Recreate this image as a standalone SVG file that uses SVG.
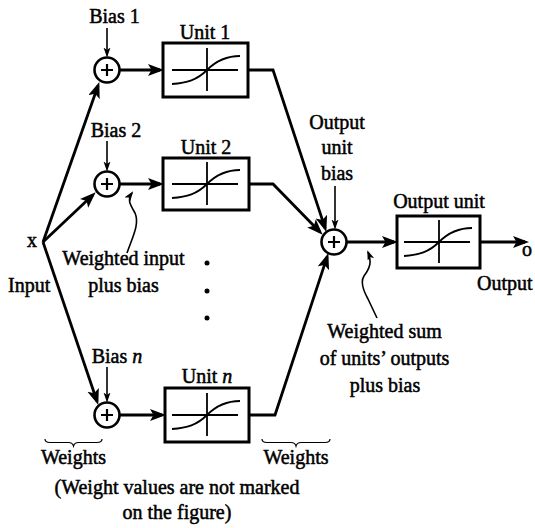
<svg xmlns="http://www.w3.org/2000/svg" xmlns:xlink="http://www.w3.org/1999/xlink" width="535" height="528" viewBox="0 0 535 528">
  <style>
    text { font-family: "Liberation Serif", "Times New Roman", serif; font-size: 20px; fill: #000; stroke: #000; stroke-width: 0.5; }
    .mid { text-anchor: middle; }
    .sum { fill: #fff; stroke: #000; stroke-width: 2.6; }
    .plus { stroke: #000; stroke-width: 2.2; fill: none; }
    .box { fill: #fff; stroke: #000; stroke-width: 3; }
    .sig { fill: none; stroke: #000; stroke-width: 1.8; }
    .thick { fill: none; stroke: #000; stroke-width: 2.8; stroke-linejoin: miter; }
    .thin { fill: none; stroke: #000; stroke-width: 1.6; }
    .brace { fill: none; stroke: #000; stroke-width: 1.2; }
  </style>
  <defs>
    <marker id="ah" markerUnits="userSpaceOnUse" markerWidth="17" markerHeight="13" refX="12" refY="6" orient="auto">
      <path d="M0,0 L16,6 L0,12 L3.5,6 z" fill="#000"/>
    </marker>
    <marker id="sh" markerUnits="userSpaceOnUse" markerWidth="11" markerHeight="8" refX="8" refY="3.5" orient="auto">
      <path d="M0,0 L10,3.5 L0,7 L2.5,3.5 z" fill="#000"/>
    </marker>
    <!-- sigmoid glyph drawn around the axis crossing -->
    <g id="sig" class="sig">
      <path d="M-35,0 H31"/>
      <path d="M0,-22 V21"/>
      <path d="M-35,14 C-20,13 -10,10 0,0 C10,-10 20,-14 33,-14"/>
    </g>
    <g id="plus" class="plus">
      <path d="M-6,0 H6 M0,-6 V6"/>
    </g>
  </defs>

  <rect width="535" height="528" fill="#fff"/>

  <!-- connectors -->
  <g id="connectors">
    <path class="thick" d="M43,242 L98,85.8" marker-end="url(#ah)"/>
    <path class="thick" d="M43,242 L92.8,195.1" marker-end="url(#ah)"/>
    <path class="thick" d="M43,242 L97,401.2" marker-end="url(#ah)"/>
    <path class="thick" d="M119.5,70 L160,70" marker-end="url(#ah)"/>
    <path class="thick" d="M119.5,184 L160,184" marker-end="url(#ah)"/>
    <path class="thick" d="M119.5,415 L162,415" marker-end="url(#ah)"/>
    <path class="thick" d="M248,70 L273,70 L325.1,228.1" marker-end="url(#ah)"/>
    <path class="thick" d="M249,184 L273,184 L319.9,231.9" marker-end="url(#ah)"/>
    <path class="thick" d="M249,415 L275,415 L327.1,256.9" marker-end="url(#ah)"/>
    <path class="thick" d="M346.5,242 L394,242" marker-end="url(#ah)"/>
    <path class="thick" d="M480,242 L525,242" marker-end="url(#ah)"/>
    <path class="thin" d="M107,28 L107,55.5" marker-end="url(#sh)"/>
    <path class="thin" d="M107,141 L107,169.5" marker-end="url(#sh)"/>
    <path class="thin" d="M107,367 L107,400.5" marker-end="url(#sh)"/>
    <path class="thin" d="M335,186 L335,227.5" marker-end="url(#sh)"/>
    <path class="thin" d="M127,253 C132,238 140,224 135,213 C130,204 127,200 132,193" marker-end="url(#sh)"/>
    <path class="thin" d="M377,318 L368,299 C363,290 360,282 364,276 C370,268 372,262 368,252" marker-end="url(#sh)"/>
  </g>

  <!-- summing junctions -->
  <g id="sum1"><circle class="sum" cx="107" cy="70" r="12.5"/><use href="#plus" transform="translate(107,70)"/></g>
  <g id="sum2"><circle class="sum" cx="107" cy="184" r="12.5"/><use href="#plus" transform="translate(107,184)"/></g>
  <g id="sumn"><circle class="sum" cx="107" cy="415" r="12.5"/><use href="#plus" transform="translate(107,415)"/></g>
  <g id="sumout"><circle class="sum" cx="334" cy="242" r="12.5"/><use href="#plus" transform="translate(334,242)"/></g>

  <!-- units -->
  <g id="unit1">
    <rect class="box" x="163" y="43" width="85" height="54"/>
    <use href="#sig" transform="translate(207,70)"/>
    <text class="mid" x="205" y="39">Unit 1</text>
  </g>
  <g id="unit2">
    <rect class="box" x="163" y="158" width="86" height="52"/>
    <use href="#sig" transform="translate(207,184)"/>
    <text class="mid" x="206" y="154">Unit 2</text>
  </g>
  <g id="unitn">
    <rect class="box" x="165" y="388" width="84" height="54"/>
    <use href="#sig" transform="translate(207,415)"/>
    <text class="mid" x="207" y="383">Unit <tspan font-style="italic">n</tspan></text>
  </g>
  <g id="outunit">
    <rect class="box" x="397" y="216" width="83" height="52"/>
    <use href="#sig" transform="translate(439,242)"/>
    <text class="mid" x="439" y="208">Output unit</text>
  </g>

  <!-- labels -->
  <g id="labels">
    <text class="mid" x="114.5" y="23">Bias 1</text>
    <text class="mid" x="116" y="137">Bias 2</text>
    <text class="mid" x="117" y="363">Bias <tspan font-style="italic">n</tspan></text>
    <text x="27" y="247">x</text>
    <text x="8" y="292">Input</text>
    <text class="mid" x="123.5" y="265">Weighted input</text>
    <text class="mid" x="123.5" y="292">plus bias</text>
    <text class="mid" x="337" y="129">Output</text>
    <text class="mid" x="337" y="154">unit</text>
    <text class="mid" x="337" y="180">bias</text>
    <text x="522" y="256">o</text>
    <text x="477" y="290">Output</text>
    <text class="mid" x="384.5" y="338">Weighted sum</text>
    <text class="mid" x="384.5" y="365">of units’ outputs</text>
    <text class="mid" x="385" y="392">plus bias</text>
    <text class="mid" x="73.5" y="464">Weights</text>
    <text class="mid" x="296" y="464">Weights</text>
    <text class="mid" x="177" y="494">(Weight values are not marked</text>
    <text class="mid" x="177" y="519">on the figure)</text>
  </g>

  <!-- continuation dots -->
  <g id="dots" fill="#000">
    <circle cx="207" cy="263" r="2.5"/>
    <circle cx="207" cy="291" r="2.5"/>
    <circle cx="207" cy="318" r="2.5"/>
  </g>

  <!-- weight braces -->
  <g id="braces" class="brace">
    <path d="M45,439 q0,3.5 5,3.5 h18.5 q4,0 5,3.5 q1,-3.5 5,-3.5 h18.5 q5,0 5,-3.5"/>
    <path d="M262,439 q0,3.5 5,3.5 h24 q4,0 5,3.5 q1,-3.5 5,-3.5 h24 q5,0 5,-3.5"/>
  </g>
</svg>
